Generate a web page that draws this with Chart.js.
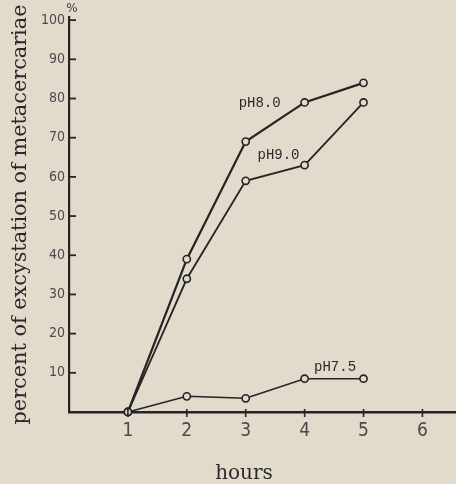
<!DOCTYPE html>
<html>
<head>
<meta charset="utf-8">
<script src="https://cdn.jsdelivr.net/npm/chart.js@4/dist/chart.umd.min.js"></script>
<style>
  html, body { margin: 0; padding: 0; background: rgb(226,218,203); }
  #wrap { width: 456px; height: 484px; position: relative; }
</style>
</head>
<body>
<div id="wrap"><canvas id="c" width="456" height="484"></canvas></div>
<script>
// ---- data ----
const hours = [1, 2, 3, 4, 5];
const pH80 = [0, 39, 69, 79, 84];
const pH90 = [0, 34, 59, 63, 79];
const pH75 = [0, 4, 3.5, 8.5, 8.5];
const seriesNames = ['pH8.0', 'pH9.0', 'pH7.5'];
const xTicks = [1, 2, 3, 4, 5, 6];
const yTicks = [10, 20, 30, 40, 50, 60, 70, 80, 90, 100];
const xTitle = 'hours';
const yTitle = 'percent of excystation of metacercariae';
const yUnit = '%';

const BG = 'rgb(226,218,203)';
const INK = '#242424';
const TICKFONT = "'Liberation Sans Narrow', 'DejaVu Sans Condensed', 'Roboto Condensed', 'Liberation Sans', sans-serif";

function pts(ys) { return hours.map((h, i) => ({ x: h, y: ys[i] })); }

const lineStyle = (w) => ({
  borderColor: INK, borderWidth: w, pointRadius: 3.6, pointBorderWidth: 1.6,
  pointBackgroundColor: BG, pointBorderColor: INK, tension: 0, clip: false, fill: false
});

const decor = {
  id: 'decor',
  beforeDraw(chart) {
    const c = chart.ctx;
    c.save(); c.fillStyle = BG; c.fillRect(0, 0, chart.width, chart.height); c.restore();
  },
  afterDraw(chart) {
    const c = chart.ctx, xs = chart.scales.x, ys = chart.scales.y;
    c.save();
    c.strokeStyle = INK;
    // y tick marks (inward)
    c.lineWidth = 1.8;
    yTicks.forEach(v => {
      const py = ys.getPixelForValue(v);
      c.beginPath(); c.moveTo(xs.left, py); c.lineTo(xs.left + 7, py); c.stroke();
    });
    // x tick marks (crossing)
    c.lineWidth = 1.6;
    xTicks.forEach(v => {
      const px = xs.getPixelForValue(v);
      c.beginPath(); c.moveTo(px, ys.bottom - 3); c.lineTo(px, ys.bottom + 5); c.stroke();
    });
    // % unit
    c.fillStyle = '#3a3a3a';
    c.font = "12px 'DejaVu Sans', sans-serif";
    c.textAlign = 'center'; c.textBaseline = 'middle';
    c.fillText(yUnit, xs.left + 3, ys.top - 8);
    // x title
    c.fillStyle = '#2a2a2a';
    c.font = "20px 'DejaVu Serif', serif";
    c.textAlign = 'center'; c.textBaseline = 'alphabetic';
    c.fillText(xTitle, xs.getPixelForValue(2.97), 479);
    // series labels
    c.font = "14px 'Liberation Mono', 'DejaVu Sans Mono', monospace";
    c.textAlign = 'left'; c.textBaseline = 'middle';
    const anchors = [[2.88, 78.8], [3.2, 65.4], [4.16, 11.4]];
    seriesNames.forEach((n, i) => {
      c.fillText(n, xs.getPixelForValue(anchors[i][0]), ys.getPixelForValue(anchors[i][1]));
    });
    c.restore();
  }
};

new Chart(document.getElementById('c'), {
  type: 'line',
  data: {
    datasets: [
      Object.assign({ label: seriesNames[0], data: pts(pH80) }, lineStyle(2.2)),
      Object.assign({ label: seriesNames[1], data: pts(pH90) }, lineStyle(1.8)),
      Object.assign({ label: seriesNames[2], data: pts(pH75) }, lineStyle(1.6))
    ]
  },
  options: {
    responsive: false,
    animation: false,
    layout: { autoPadding: false, padding: { top: 17, right: 0, left: 0, bottom: 0 } },
    plugins: { legend: { display: false }, tooltip: { enabled: false } },
    scales: {
      x: {
        type: 'linear', min: 0, max: 6.57,
        afterFit(s) { s.height = 72; },
        afterBuildTicks(s) { s.ticks = xTicks.map(v => ({ value: v })); },
        grid: { display: false, drawTicks: false, tickLength: 0 },
        border: { display: true, color: INK, width: 2.6 },
        ticks: { padding: 8, color: '#4a4a4a', font: { family: TICKFONT, size: 19 }, maxRotation: 0, autoSkip: false }
      },
      y: {
        type: 'linear', min: 0, max: 100.8,
        afterFit(s) { s.width = 69; },
        afterBuildTicks(s) { s.ticks = yTicks.map(v => ({ value: v })); },
        grid: { display: false, drawTicks: false, tickLength: 0 },
        border: { display: true, color: INK, width: 2.2 },
        ticks: { padding: 4, color: '#4a4a4a', font: { family: TICKFONT, size: 14 }, autoSkip: false },
        title: { display: true, text: yTitle, color: '#2a2a2a', padding: { top: 8, bottom: 0 },
                 font: { family: "'DejaVu Serif', serif", size: 20.8 } }
      }
    }
  },
  plugins: [decor]
});
</script>
</body>
</html>
